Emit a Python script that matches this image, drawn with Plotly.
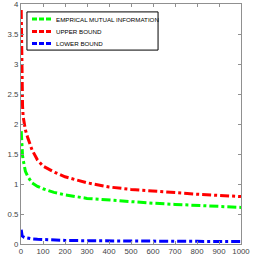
import plotly.graph_objects as go

x_vals = [1, 2, 3, 5, 7, 10, 15, 20, 30, 40, 50, 75, 100, 150, 200, 300, 400, 500, 600, 700, 800, 900, 1000]
empirical_mi = [1.88, 1.75, 1.65, 1.55, 1.47, 1.40, 1.28, 1.21, 1.13, 1.07, 1.02, 0.96, 0.92, 0.86, 0.82, 0.76, 0.73, 0.70, 0.68, 0.66, 0.645, 0.63, 0.61]
upper_bound = [3.9, 3.3, 2.9, 2.5, 2.3, 2.12, 1.98, 1.9, 1.78, 1.66, 1.57, 1.4, 1.3, 1.2, 1.12, 1.02, 0.95, 0.91, 0.88, 0.85, 0.83, 0.81, 0.79]
lower_bound = [0.24, 0.19, 0.16, 0.14, 0.13, 0.12, 0.11, 0.105, 0.095, 0.09, 0.085, 0.078, 0.073, 0.066, 0.06, 0.054, 0.05, 0.048, 0.046, 0.045, 0.044, 0.043, 0.042]

series_names = ["EMPRICAL MUTUAL INFORMATION", "UPPER BOUND", "LOWER BOUND"]
series_values = [empirical_mi, upper_bound, lower_bound]
series_colors = ["#00ff00", "#ff0000", "#0000ff"]

fig = go.Figure()
for name, vals, col in zip(series_names, series_values, series_colors):
    fig.add_trace(go.Scatter(x=x_vals, y=vals, mode="lines", name=name, showlegend=False,
                             line=dict(color=col, width=3, dash="dashdot")))

font_fam = "Liberation Sans, Arial, sans-serif"
axis_common = dict(showline=True, linecolor="#909090", linewidth=1, mirror="ticks",
                   ticks="inside", ticklen=3, tickcolor="#909090", showgrid=False,
                   zeroline=False, automargin=False, ticklabeloverflow="allow",
                   tickfont=dict(size=7.8, color="#444444", family=font_fam))

# Manual compact legend (box, samples, labels) in paper coordinates
box = dict(x0=0.027, x1=0.623, y0=0.808, y1=0.967)
row_y = [0.9375, 0.885, 0.835]
shapes = [dict(type="rect", xref="paper", yref="paper", line=dict(color="black", width=1),
               fillcolor="white", layer="above", **box)]
annotations = []
for name, col, ry in zip(series_names, series_colors, row_y):
    shapes.append(dict(type="line", xref="paper", yref="paper", x0=0.05, x1=0.141, y0=ry, y1=ry,
                       line=dict(color=col, width=3, dash="5px,2px"), layer="above"))
    annotations.append(dict(x=0.148, y=ry, xref="paper", yref="paper", text=name, showarrow=False,
                            xanchor="left", yanchor="middle",
                            font=dict(size=6.2, family=font_fam, color="black")))

fig.update_layout(
    width=273, height=273,
    margin=dict(l=21, r=32, t=4, b=29),
    paper_bgcolor="white", plot_bgcolor="white",
    showlegend=False,
    shapes=shapes, annotations=annotations,
    xaxis=dict(range=[0, 1000], dtick=100, **axis_common),
    yaxis=dict(range=[0, 4], dtick=0.5, **axis_common),
)

fig.write_html("out.html", config={"displayModeBar": False},
               post_script="document.body.style.margin='0';")
